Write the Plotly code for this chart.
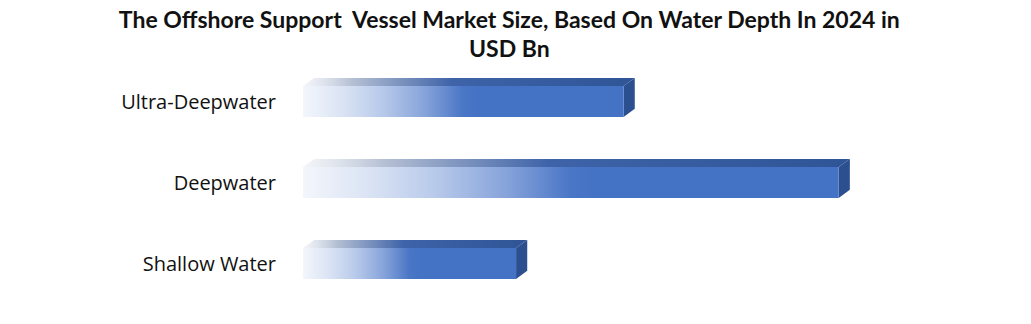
import plotly.graph_objects as go

categories = ["Shallow Water", "Deepwater", "Ultra-Deepwater"]
values = [5.35, 13.45, 8.05]
title_text = "<b>The Offshore Support  Vessel Market Size, Based On Water Depth In 2024 in<br>USD Bn</b>"

X_MAX = 17.5
HALF = 0.19   # half height of front face (category units)
DX = 0.28     # depth offset in x (data units)
DY = 0.10     # depth offset in y (category units)

front_scale = [[0, "#f3f6fc"], [0.12, "#dbe4f4"], [0.25, "#b7c9ea"], [0.38, "#86a3da"],
               [0.5, "#4a76c6"], [0.55, "#4472c4"], [1, "#4472c4"]]
top_scale = [[0, "rgba(235,238,244,0.6)"], [0.15, "#b4bfd3"], [0.45, "#3e63a8"], [1, "#2f5597"]]

fig = go.Figure()
for i, (cat, v) in enumerate(zip(categories, values)):
    c = i
    # top face
    fig.add_trace(go.Scatter(
        x=[0, v, v + DX, DX, 0],
        y=[c + HALF, c + HALF, c + HALF + DY, c + HALF + DY, c + HALF],
        mode="lines", line=dict(width=0), fill="toself",
        fillgradient=dict(type="horizontal", colorscale=top_scale),
        hoverinfo="skip", showlegend=False))
    # side face
    fig.add_trace(go.Scatter(
        x=[v, v + DX, v + DX, v, v],
        y=[c - HALF, c - HALF + DY, c + HALF + DY, c + HALF, c - HALF],
        mode="lines", line=dict(width=0), fill="toself", fillcolor="#2c4f8f",
        hoverinfo="skip", showlegend=False))
    # front face
    fig.add_trace(go.Scatter(
        x=[0, v, v, 0, 0],
        y=[c - HALF, c - HALF, c + HALF, c + HALF, c - HALF],
        mode="lines", line=dict(width=0), fill="toself",
        fillgradient=dict(type="horizontal", colorscale=front_scale),
        name=cat, hovertemplate=cat + ": %{x}<extra></extra>", showlegend=False))

fig.update_layout(
    width=1031, height=324,
    margin=dict(l=303, r=31, t=61, b=20),
    paper_bgcolor="white", plot_bgcolor="white",
    title=dict(text=title_text, x=0.494, xref="container", xanchor="center",
               y=0.915, yref="container", yanchor="top",
               font=dict(family="Lato", size=23, color="#111111")),
    xaxis=dict(range=[0, X_MAX], visible=False, showgrid=False, zeroline=False),
    yaxis=dict(range=[-0.5, 2.5], tickvals=[0, 1, 2], ticktext=categories,
               showgrid=False, zeroline=False, showline=False, ticks="",
               ticklabelstandoff=26,
               tickfont=dict(family="Open Sans", size=20, color="#111111")),
)

fig.write_html("out.html")
